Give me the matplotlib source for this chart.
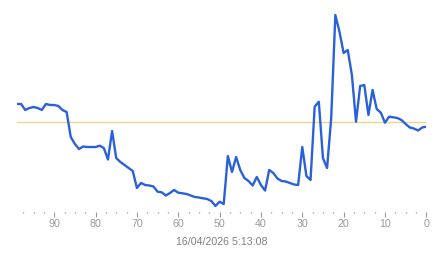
import numpy as np
import matplotlib
matplotlib.use("Agg")
import matplotlib.pyplot as plt
from matplotlib.ticker import MultipleLocator

# x runs from 99 (oldest) down to 0 (latest)
x = np.arange(99, -1, -1)
values = [
    1.8, 1.8, 1.2, 1.4, 1.5, 1.4, 1.2, 1.8, 1.7, 1.7,        # 99..90
    1.6, 1.2, 1.0, -1.5, -2.2, -2.7, -2.45, -2.5, -2.5, -2.5, # 89..80
    -2.37, -2.6, -3.75, -0.9, -3.6, -4.0, -4.3, -4.6, -4.9, -6.6,  # 79..70
    -6.1, -6.3, -6.35, -6.45, -6.97, -7.03, -7.35, -7.1, -6.8, -7.07,  # 69..60
    -7.13, -7.2, -7.35, -7.5, -7.55, -7.63, -7.7, -7.9, -8.4, -7.97,  # 59..50
    -8.2, -3.4, -5.0, -3.5, -4.8, -5.6, -5.9, -6.35, -5.5, -6.3,  # 49..40
    -6.85, -4.8, -5.1, -5.65, -5.9, -5.95, -6.1, -6.25, -6.3, -2.5,  # 39..30
    -5.4, -5.8, 1.53, 2.03, -3.6, -4.6, 0.4, 10.7, 9.03, 6.9,  # 29..20
    7.2, 4.7, 0.03, 3.6, 3.7, 0.7, 3.2, 1.3, 0.93, -0.07,  # 19..10
    0.53, 0.47, 0.4, 0.2, -0.2, -0.55, -0.65, -0.85, -0.55, -0.47,  # 9..0
]
ref_level = 0.0
timestamp = "16/04/2026 5:13:08"

plt.rcParams['font.family'] = ['Liberation Sans', 'DejaVu Sans']

fig = plt.figure(figsize=(4.43, 2.58), dpi=100)
W, H = 443, 258
left, right = 17 / W, 426.3 / W
bottom, top = (H - 212) / H, 1.0
ax = fig.add_axes([left, bottom, right - left, top - bottom])

ax.axhline(ref_level, color='#ecd68e', lw=1.0, zorder=1)
ax.plot(x, values, color='#2a60dc', lw=1.7, zorder=2, solid_joinstyle='round')

ax.set_xlim(99, 0)
ax.set_ylim(-9.0, 12.2)

for s in ax.spines.values():
    s.set_visible(False)
ax.set_yticks([])
ax.xaxis.set_major_locator(MultipleLocator(10))
ax.xaxis.set_minor_locator(MultipleLocator(2.5))
ax.tick_params(axis='x', which='major', length=3.6, width=0.8, color='#999999',
               labelcolor='#999999', labelsize=7.7, pad=1.5)
ax.tick_params(axis='x', which='minor', length=1.0, width=1.0, color='#888888')
ax.set_xticks([90, 80, 70, 60, 50, 40, 30, 20, 10, 0])

fig.text((left + right) / 2, 1 - 241.7 / H, timestamp, ha='center', va='center',
         color='#808080', fontsize=7.7)

fig.savefig('out.png', dpi=100)
